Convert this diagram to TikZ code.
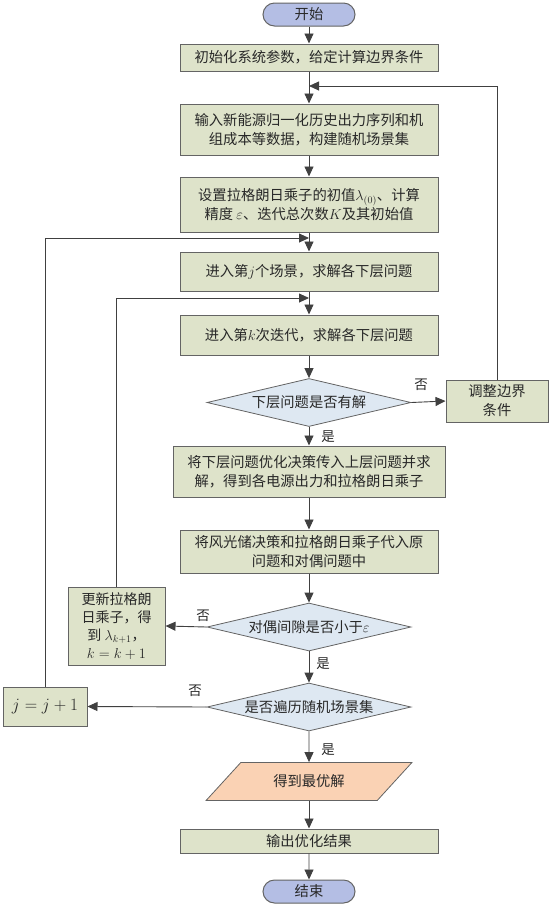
\documentclass[tikz,border=0pt]{standalone}
\usepackage{fontspec}
\setmainfont{Noto Sans CJK SC}
\usetikzlibrary{arrows.meta,shapes.geometric,shapes.misc}
\definecolor{boxfill}{RGB}{222,227,202}
\definecolor{dfill}{RGB}{222,232,242}
\definecolor{tfill}{RGB}{180,190,228}
\definecolor{pfill}{RGB}{250,210,180}
\definecolor{edge}{RGB}{100,100,100}
\definecolor{linec}{RGB}{64,64,64}
\definecolor{txt}{RGB}{40,40,40}
\begin{document}
\begin{tikzpicture}[x=1pt,y=-1pt,
  every node/.style={text=txt,font=\fontsize{14.3}{19}\selectfont},
  box/.style={draw=edge,line width=1pt,fill=boxfill,rectangle,align=center,inner sep=2pt},
  term/.style={draw=edge,line width=1pt,fill=tfill,rounded rectangle,minimum width=94pt,minimum height=23pt,inner sep=1pt},
  dia/.style={draw=edge,line width=0.8pt,fill=dfill,diamond,aspect=4.25,minimum width=204pt,minimum height=48pt,inner sep=0pt},
  arr/.style={draw=linec,line width=0.9pt,-{Triangle[length=10pt,width=9pt]}},
  lab/.style={font=\fontsize{13.5}{15}\selectfont}
]
\useasboundingbox (0,0) rectangle (549,906);
\node[term] (start) at (309,14.5) {开始};
\node[box,minimum width=258pt,minimum height=27pt] (b1) at (309,57.5) {初始化系统参数，给定计算边界条件};
\node[box,minimum width=258pt,minimum height=51pt] (b2) at (309,129.5) {输入新能源归一化历史出力序列和机\\组成本等数据，构建随机场景集};
\node[box,minimum width=258pt,minimum height=55pt] (b3) at (309,204.5) {设置拉格朗日乘子的初值$\lambda_{(0)}$、计算\\精度 $\varepsilon$、迭代总次数$K$及其初始值};
\node[box,minimum width=258pt,minimum height=39pt] (b4) at (309,271.5) {进入第$j$个场景，求解各下层问题};
\node[box,minimum width=258pt,minimum height=40pt] (b5) at (309,335) {进入第$k$次迭代，求解各下层问题};
\node[dia] (d1) at (309,402.5) {下层问题是否有解};
\node[box,minimum width=102pt,minimum height=42pt] (adj) at (497,401) {调整边界\\条件};
\node[box,minimum width=272pt,minimum height=51pt] (b6) at (309,471.5) {将下层问题优化决策传入上层问题并求\\解，得到各电源出力和拉格朗日乘子};
\node[box,minimum width=258pt,minimum height=43pt] (b7) at (309,551.5) {将风光储决策和拉格朗日乘子代入原\\问题和对偶问题中};
\node[dia] (d2) at (309,627) {对偶间隙是否小于$\varepsilon$};
\node[box,minimum width=97pt,minimum height=78pt,font=\fontsize{14}{18}\selectfont] (upd) at (116.5,626) {更新拉格朗\\日乘子，得\\到 $\lambda_{k+1}$，\\$k=k+1$};
\node[dia] (d3) at (309,707) {是否遍历随机场景集};
\node[box,minimum width=84pt,minimum height=39pt,font=\fontsize{17}{18}\selectfont] (jb) at (45,706.5) {$j=j+1$};
\node[trapezium,trapezium left angle=36,trapezium right angle=144,trapezium stretches=true,draw=edge,line width=0.8pt,fill=pfill,minimum width=206pt,minimum height=38pt,inner sep=0pt] (opt) at (309,781.5) {得到最优解};
\node[box,minimum width=258pt,minimum height=24pt,inner sep=1pt] (b8) at (309,841) {输出优化结果};
\node[term] (end) at (309,891.5) {结束};
\coordinate (j1) at (309,86);
\coordinate (j2) at (309,298);
\coordinate (j3) at (309,238);
\draw[arr] (start) -- (b1);
\draw[arr] (b1) -- (b2);
\draw[arr] (b2) -- (b3);
\draw[arr] (b3) -- (b4);
\draw[arr] (b4) -- (b5);
\draw[arr] (b5) -- (d1);
\draw[arr] (d1) -- (b6);
\draw[arr] (b6) -- (b7);
\draw[arr] (b7) -- (d2);
\draw[arr] (d2) -- (d3);
\draw[arr] (d3) -- (opt);
\draw[arr] (opt) -- (b8);
\draw[arr] (b8) -- (end);
\draw[arr] (d1.east) -- (adj.west);
\draw[arr] (adj.north) |- (j1);
\draw[arr] (d2.west) -- (upd.east);
\draw[arr] (upd.north) |- (j2);
\draw[arr] (d3.west) -- (jb.east);
\draw[arr] (jb.north) |- (j3);
\node[lab] (l1) at (421,385) {否};
\node[lab] (l2) at (328,437) {是};
\node[lab] (l3) at (203,616) {否};
\node[lab] (l4) at (323,664) {是};
\node[lab] (l5) at (195,691) {否};
\node[lab] (l6) at (328,750) {是};
\end{tikzpicture}
\end{document}
